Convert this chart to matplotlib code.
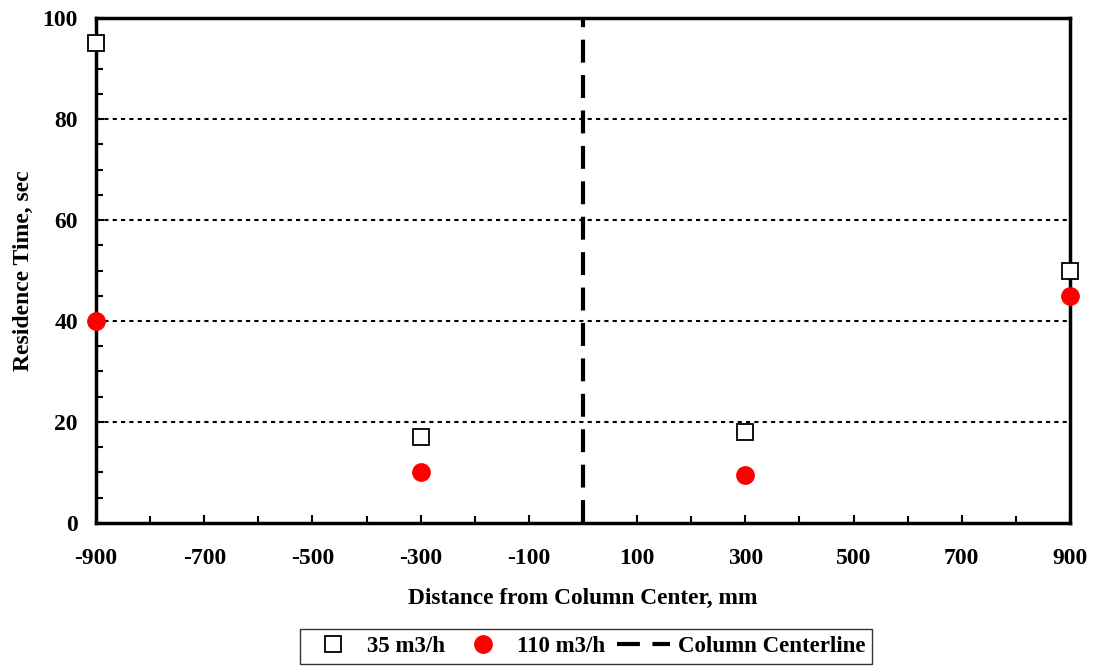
import matplotlib.pyplot as plt
from matplotlib.ticker import MultipleLocator

plt.rcParams['font.family'] = ['Liberation Serif', 'DejaVu Serif']
plt.rcParams['font.weight'] = 'bold'
plt.rcParams['axes.unicode_minus'] = False

distance = [-900, -300, 300, 900]
rt_35 = [95, 17, 18, 50]
rt_110 = [40, 10, 9.5, 45]
centerline_x = [0, 0]
centerline_y = [0, 100]

fig = plt.figure(figsize=(10.95, 6.67), dpi=100)
ax = fig.add_axes([0.0877, 0.2159, 0.8895, 0.7571])

for yv in [20, 40, 60, 80]:
    ax.axhline(yv, color='black', linestyle=(0, (2, 2)), linewidth=1.5, zorder=1)

ax.plot(distance, rt_35, linestyle='none', marker='s', markersize=11, markerfacecolor='white',
        markeredgecolor='black', markeredgewidth=1.3, label='35 m3/h', zorder=4, clip_on=False)
ax.plot(distance, rt_110, linestyle='none', marker='o', markersize=12.5, color='red',
        label='110 m3/h', zorder=4, clip_on=False)
ax.plot(centerline_x, centerline_y, color='black', linestyle=(0, (5.5, 3)), linewidth=3,
        label='Column Centerline', zorder=3)

ax.set_xlim(-900, 900)
ax.set_ylim(0, 100)
ax.xaxis.set_major_locator(MultipleLocator(200, offset=100))
ax.xaxis.set_minor_locator(MultipleLocator(100))
ax.yaxis.set_major_locator(MultipleLocator(20))
ax.yaxis.set_minor_locator(MultipleLocator(5))
ax.tick_params(which='both', direction='in', width=1.5, labelsize=17)
ax.tick_params(which='major', length=6)
ax.tick_params(which='minor', length=5)
ax.tick_params(axis='x', pad=18)
ax.tick_params(axis='y', pad=13)
for lbl in ax.get_xticklabels() + ax.get_yticklabels():
    lbl.set_fontweight('bold')
for sp in ax.spines.values():
    sp.set_linewidth(2.5)

ax.set_xlabel('Distance from Column Center, mm', fontsize=16.8, fontweight='bold', labelpad=14)
ax.set_ylabel('Residence Time, sec', fontsize=17, fontweight='bold', labelpad=6)

leg = fig.legend(loc='center', bbox_to_anchor=(0.535, 0.031), ncol=3, frameon=True, fancybox=False,
                 edgecolor='black', fontsize=16.5, handlelength=2.3, columnspacing=0.5,
                 borderpad=0.3, handletextpad=0.35, borderaxespad=0)
leg.get_frame().set_linewidth(1.0)
for t in leg.get_texts():
    t.set_fontweight('bold')

fig.savefig('out.png', dpi=100)
